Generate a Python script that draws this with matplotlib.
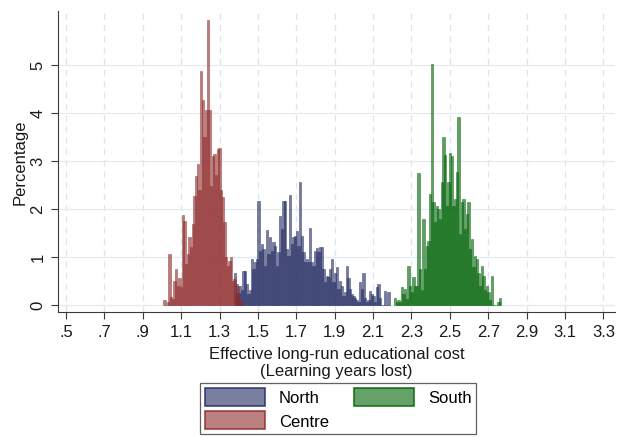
import matplotlib
matplotlib.use("Agg")
import matplotlib.pyplot as plt
from matplotlib.patches import Patch

plt.rcParams['font.family'] = ['Liberation Sans', 'DejaVu Sans']

# histogram bins (share of simulations, %)
BIN = 0.00869

centre_start = 1.0125
centre_pct = [0.10, 0.00, 0.05, 1.05, 0.17, 0.12, 0.50, 0.75, 0.40, 0.55,
              0.37, 1.87, 1.74, 0.85, 1.06, 1.42, 1.20, 1.69, 2.27, 2.69,
              2.93, 2.38, 4.86, 4.26, 3.49, 4.05, 5.92, 4.05, 2.48, 3.10,
              3.14, 2.70, 3.24, 3.26, 2.38, 2.24, 1.72, 0.99, 0.80, 0.92,
              0.99, 0.50, 0.53, 0.22, 0.40, 0.12, 0.05]

north_start = 1.381
north_pct = [0.67, 0.43, 0.25, 0.40, 0.30, 0.70, 0.70, 0.43, 0.22, 0.30,
             0.95, 0.74, 0.88, 0.95, 2.15, 1.12, 1.26, 1.16, 0.81, 1.56,
             1.05, 1.40, 1.12, 1.30, 1.23, 0.81, 1.09, 1.84, 1.58, 2.15,
             2.16, 1.16, 1.02, 2.29, 1.26, 1.40, 1.44, 1.54, 1.23, 2.55,
             1.44, 1.09, 0.88, 0.95, 0.88, 1.59, 0.88, 0.81, 1.12, 1.19,
             1.09, 1.20, 1.21, 0.74, 0.47, 0.60, 0.57, 0.74, 0.96, 0.47,
             0.67, 0.78, 0.33, 0.50, 0.40, 0.19, 0.26, 0.80, 0.55, 0.33,
             0.22, 0.19, 0.15, 0.10, 0.05, 0.47, 0.33, 0.67, 0.15, 0.05,
             0.10, 0.29, 0.22, 0.19, 0.05, 0.36, 0.43, 0.15, 0.00, 0.00,
             0.29, 0.00, 0.26]

south_start = 2.215
south_pct = [0.15, 0.05, 0.10, 0.05, 0.36, 0.22, 0.33, 0.12, 0.81, 0.40,
             0.26, 0.57, 0.40, 0.40, 2.74, 0.74, 0.30, 1.78, 0.74, 1.23,
             1.33, 2.31, 5.01, 2.13, 1.72, 2.06, 1.99, 1.78, 2.55, 3.49,
             3.12, 2.06, 2.55, 3.16, 3.10, 2.06, 2.20, 2.76, 3.90, 1.47,
             2.13, 2.20, 1.58, 1.89, 2.13, 1.16, 1.37, 0.78, 1.02, 0.95,
             0.67, 0.40, 0.81, 0.60, 0.30, 0.40, 0.26, 0.10, 0.60, 0.00,
             0.00, 0.00, 0.05, 0.15]

xticks = [0.5, 0.7, 0.9, 1.1, 1.3, 1.5, 1.7, 1.9, 2.1, 2.3, 2.5, 2.7, 2.9, 3.1, 3.3]
xticklabels = ['.5', '.7', '.9', '1.1', '1.3', '1.5', '1.7', '1.9', '2.1',
               '2.3', '2.5', '2.7', '2.9', '3.1', '3.3']
yticks = [0, 1, 2, 3, 4, 5]

series = [
    ('North', north_start, north_pct, (0.137, 0.165, 0.380)),
    ('South', south_start, south_pct, (0.0, 0.39, 0.02)),
    ('Centre', centre_start, centre_pct, (0.56, 0.17, 0.17)),
]

fig = plt.figure(figsize=(6.24, 4.39), dpi=100)
ax = fig.add_axes([0.093, 0.287, 0.893, 0.686])

handles = []
for name, start, vals, rgb in series:
    xs = [start + i * BIN for i in range(len(vals))]
    ax.bar(xs, vals, width=BIN * 1.35, align='center',
           color=rgb + (0.62,), edgecolor=rgb + (0.75,), linewidth=0.4, zorder=2)
    handles.append(Patch(facecolor=rgb + (0.6,), edgecolor=rgb + (0.85,),
                         linewidth=1.2, label=name))

ax.set_xlim(0.458, 3.362)
ax.set_ylim(-0.152, 6.12)
ax.set_xticks(xticks)
ax.set_xticklabels(xticklabels)
ax.set_yticks(yticks)

ax.set_axisbelow(True)
ax.yaxis.grid(True, color='#e3ebf1', linewidth=0.9, linestyle='-')
ax.xaxis.grid(True, color='#dce5ec', linewidth=0.9, linestyle=(0, (5, 4)))

for side in ['top', 'right']:
    ax.spines[side].set_visible(False)
for side in ['left', 'bottom']:
    ax.spines[side].set_color('#3a3a3a')
    ax.spines[side].set_linewidth(0.8)

ax.tick_params(axis='both', colors='#3a3a3a', length=5, width=0.8,
               labelsize=12, labelcolor='#1a1a1a')
ax.tick_params(axis='y', labelrotation=90, pad=4)
for lab in ax.get_yticklabels():
    lab.set_va('center')

ax.set_xlabel('Effective long-run educational cost\n(Learning years lost)',
              fontsize=12, color='#1a1a1a', labelpad=5, linespacing=1.15)
ax.set_ylabel('Percentage', fontsize=12, color='#1a1a1a', labelpad=2)

# legend order: North, Centre in column 1, South in column 2
leg = fig.legend([handles[0], handles[2], handles[1]], ['North', 'Centre', 'South'],
                 loc='center', bbox_to_anchor=(338 / 624, 1 - 409.5 / 439), ncol=2,
                 frameon=True, fancybox=False, edgecolor='#3a3a3a',
                 fontsize=12, handlelength=3.6, handleheight=1.3,
                 handletextpad=0.85, columnspacing=1.5, borderpad=0.3,
                 labelspacing=0.3)
leg.get_frame().set_linewidth(0.9)

fig.savefig('out.png', dpi=100)
